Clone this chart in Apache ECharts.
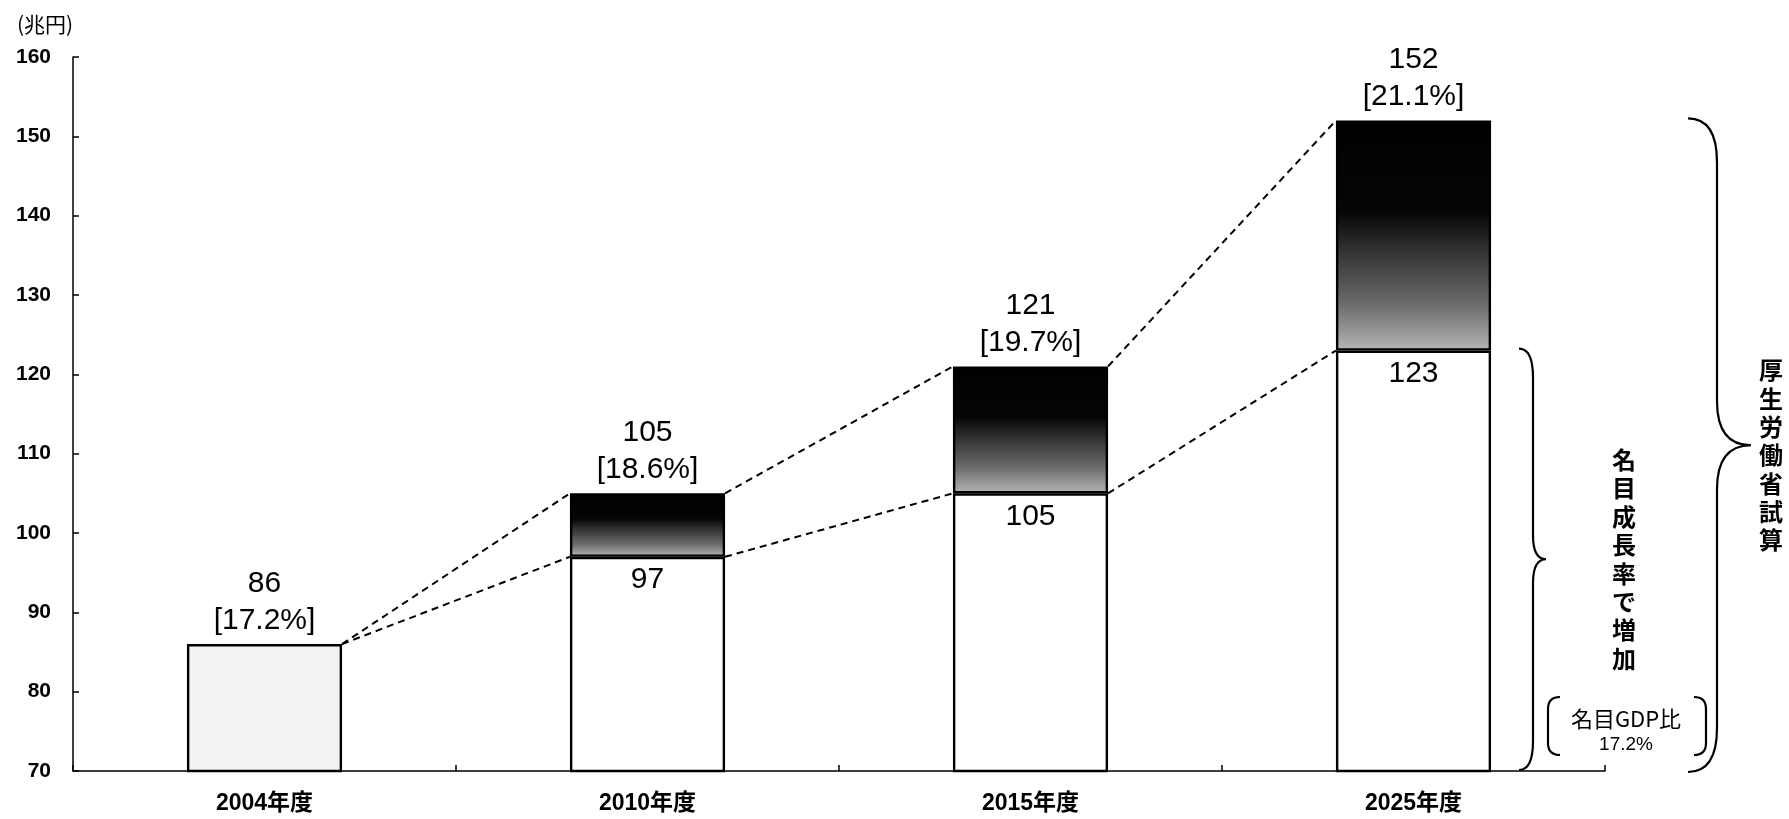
<!DOCTYPE html>
<html>
<head>
<meta charset="utf-8">
<script src="https://cdn.jsdelivr.net/npm/echarts@6/dist/echarts.min.js"></script>
<style>
  html, body { margin: 0; padding: 0; background: #fff; }
  #main { width: 1789px; height: 819px; }
</style>
</head>
<body>
<div id="main"></div>
<script>
// Social security benefit projections (兆円), with share of nominal GDP
const categories = ['2004年度', '2010年度', '2015年度', '2025年度'];
const ministryEstimate = [86, 105, 121, 152];   // 厚生労働省試算
const nominalGrowth = [86, 97, 105, 123];       // 名目成長率で増加
const gdpShare = ['17.2%', '18.6%', '19.7%', '21.1%'];
const yMin = 70, yMax = 160, yStep = 10;
const unitLabel = '(兆円)';
const outerBraceText = '厚生労働省試算';
const innerBraceText = '名目成長率で増加';
const gdpNoteTitle = '名目GDP比';

const FONT = '"Liberation Sans", "Noto Sans CJK JP", sans-serif';
const CJK = '"Noto Sans CJK JP", "Liberation Sans", sans-serif';
const BAR_RATIO = 0.405;

const chart = echarts.init(document.getElementById('main'));

// Dashed connectors between the right edge of one bar and the left edge of the next
function renderConnectors(params, api) {
  const i = api.value(0);
  const half = api.size([1, 0])[0] * BAR_RATIO / 2;
  const lines = [];
  [[1, 2], [3, 4]].forEach(([a, b]) => {
    const p0 = api.coord([i, api.value(a)]);
    const p1 = api.coord([i + 1, api.value(b)]);
    lines.push({
      type: 'line',
      shape: { x1: p0[0] + half, y1: p0[1], x2: p1[0] - half, y2: p1[1] },
      style: { stroke: '#000', lineWidth: 2, lineDash: [7, 5], fill: null }
    });
  });
  return { type: 'group', children: lines };
}

const connectorData = categories.slice(0, -1).map((c, i) => [
  i, ministryEstimate[i], ministryEstimate[i + 1], nominalGrowth[i], nominalGrowth[i + 1]
]);

// Curly brace path: ends at xEnd, spine at xSpine, point at xTip
function bracePath(xEnd, xSpine, xTip, yTop, yBot, r, rTip) {
  const yMid = (yTop + yBot) / 2;
  return `M${xEnd},${yTop} Q${xSpine},${yTop} ${xSpine},${yTop + r} ` +
    `L${xSpine},${yMid - rTip} Q${xSpine},${yMid} ${xTip},${yMid} ` +
    `Q${xSpine},${yMid} ${xSpine},${yMid + rTip} ` +
    `L${xSpine},${yBot - r} Q${xSpine},${yBot} ${xEnd},${yBot}`;
}

const braceStroke = { stroke: '#000', lineWidth: 2.2, fill: null };

// Braces and notes to the right of the last bar, vertical extent from the axis scale
function renderBraces(params, api) {
  const i = api.value(0);
  const yTotal = api.coord([i, api.value(1)])[1];
  const yBase = api.coord([i, api.value(2)])[1];
  const yFloor = api.coord([i, yMin])[1];

  const bigTop = yTotal - 2, bigBot = yFloor + 1;
  const smallTop = yBase - 2, smallBot = yFloor - 1;
  const bigMid = (bigTop + bigBot) / 2;
  const smallMid = (smallTop + smallBot) / 2;

  return {
    type: 'group',
    children: [
      { type: 'path', shape: { pathData: bracePath(1688, 1717, 1751, bigTop, bigBot, 44, 44) }, style: braceStroke },
      { type: 'path', shape: { pathData: bracePath(1519, 1533, 1546, smallTop, smallBot, 29, 24) }, style: braceStroke },
      {
        type: 'text', x: 1771, y: bigMid + 10,
        style: {
          text: outerBraceText.split('').join('\n'),
          fontSize: 24, lineHeight: 28.3, fontWeight: 'bold', fontFamily: CJK,
          fill: '#000', align: 'center', verticalAlign: 'middle'
        }
      },
      {
        type: 'text', x: 1624, y: smallMid,
        style: {
          text: innerBraceText.split('').join('\n'),
          fontSize: 24, lineHeight: 28.4, fontWeight: 'bold', fontFamily: CJK,
          fill: '#000', align: 'center', verticalAlign: 'middle'
        }
      },
      {
        type: 'text', x: 1626, y: 719,
        style: {
          text: gdpNoteTitle, fontSize: 22, fontFamily: CJK,
          fill: '#000', align: 'center', verticalAlign: 'middle'
        }
      },
      {
        type: 'text', x: 1626, y: 745,
        style: {
          text: api.value(3) + '%', fontSize: 19, fontFamily: FONT,
          fill: '#000', align: 'center', verticalAlign: 'middle'
        }
      },
      { type: 'path', shape: { pathData: 'M1560,697 Q1548,697 1548,709 L1548,743 Q1548,755 1560,755' }, style: braceStroke },
      { type: 'path', shape: { pathData: 'M1694,697 Q1706,697 1706,709 L1706,743 Q1706,755 1694,755' }, style: braceStroke }
    ]
  };
}

const last = categories.length - 1;
const braceData = [[last, ministryEstimate[last], nominalGrowth[last], parseFloat(gdpShare[0])]];

const topFill = new echarts.graphic.LinearGradient(0, 0, 0, 1, [
  { offset: 0, color: '#000000' },
  { offset: 0.4, color: '#060606' },
  { offset: 0.55, color: '#2e2e2e' },
  { offset: 0.8, color: '#6c6c6c' },
  { offset: 1, color: '#b6b6b6' }
]);

chart.setOption({
  animation: false,
  backgroundColor: '#ffffff',
  title: {
    text: unitLabel, left: 12, top: 9,
    textStyle: { fontSize: 21, fontWeight: 'normal', fontFamily: CJK, color: '#000' }
  },
  grid: { left: 73, right: 184, top: 57, bottom: 48 },
  xAxis: {
    type: 'category',
    data: categories,
    axisLine: { lineStyle: { color: '#000', width: 1.5 } },
    axisTick: { show: true, inside: true, length: 6, lineStyle: { color: '#000', width: 1.5 } },
    axisLabel: { color: '#000', fontSize: 23, fontWeight: 'bold', fontFamily: FONT, margin: 21 }
  },
  yAxis: {
    type: 'value',
    min: yMin, max: yMax, interval: yStep,
    axisLine: { show: true, lineStyle: { color: '#000', width: 1.5 } },
    axisTick: { show: true, inside: true, length: 6, lineStyle: { color: '#000', width: 1.5 } },
    splitLine: { show: false },
    axisLabel: { color: '#000', fontSize: 21, fontWeight: 'bold', fontFamily: FONT, margin: 22 }
  },
  series: [
    {
      type: 'bar',
      stack: 'total',
      barWidth: (BAR_RATIO * 100) + '%',
      data: nominalGrowth.map((v, i) => ({
        value: v,
        itemStyle: { color: i === 0 ? '#f3f3f3' : '#ffffff' },
        label: { show: i > 0 }
      })),
      itemStyle: { borderColor: '#000', borderWidth: 2.4 },
      label: {
        position: 'insideTop', distance: 5,
        fontSize: 30, lineHeight: 36, color: '#000', fontFamily: FONT
      },
      z: 2
    },
    {
      type: 'bar',
      stack: 'total',
      data: ministryEstimate.map((v, i) => ({
        value: v - nominalGrowth[i],
        itemStyle: { borderWidth: v - nominalGrowth[i] > 0 ? 2.4 : 0 }
      })),
      itemStyle: { color: topFill, borderColor: '#000', borderWidth: 2.4 },
      label: {
        show: true, position: 'top', distance: 5,
        formatter: p => ministryEstimate[p.dataIndex] + '\n[' + gdpShare[p.dataIndex] + ']',
        fontSize: 30, lineHeight: 37, color: '#000', fontFamily: FONT
      },
      z: 2
    },
    {
      type: 'custom',
      renderItem: renderConnectors,
      encode: { x: 0, y: [1, 2, 3, 4] },
      data: connectorData,
      clip: false,
      silent: true,
      z: 3
    },
    {
      type: 'custom',
      renderItem: renderBraces,
      encode: { x: 0, y: [1, 2] },
      data: braceData,
      clip: false,
      silent: true,
      z: 3
    }
  ]
});
</script>
</body>
</html>
